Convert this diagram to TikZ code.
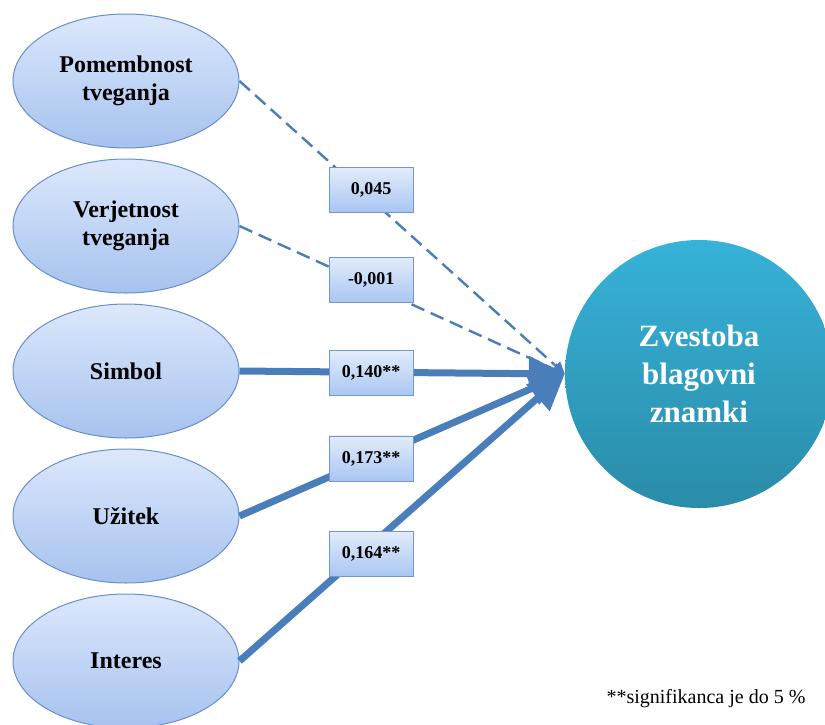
\documentclass[tikz,border=0pt]{standalone}
\usepackage{fontspec}
\setmainfont{Liberation Serif}
\usetikzlibrary{arrows.meta,shapes.geometric}
\definecolor{linija}{HTML}{4A7EBB}
\definecolor{elrob}{HTML}{6A8FC8}
\definecolor{elzg}{HTML}{DCE8FC}
\definecolor{elsp}{HTML}{A6C2EE}
\definecolor{krzg}{HTML}{37B2D9}
\definecolor{krsp}{HTML}{2A8CA8}
\definecolor{okrob}{HTML}{7396CC}
\definecolor{okzg}{HTML}{E2ECFB}
\definecolor{oksp}{HTML}{A9C6F2}
\tikzstyle{factor} = [ellipse, draw=elrob, line width=1pt, top color=elzg, bottom color=elsp, minimum width=226pt, minimum height=134pt, inner sep=0pt, align=center, font=\bfseries\fontsize{24}{28}\selectfont]
\tikzstyle{target} = [circle, top color=krzg, bottom color=krsp, minimum size=268pt, inner sep=0pt, align=center, text=white, font=\bfseries\fontsize{31}{38}\selectfont]
\tikzstyle{coef} = [rectangle, solid, draw=okrob, line width=0.8pt, top color=okzg, bottom color=oksp, minimum width=84pt, minimum height=45pt, inner sep=0pt, text=black, font=\bfseries\fontsize{18}{20}\selectfont]
\tikzstyle{strong} = [line width=7pt, draw=linija, -{Triangle[length=36pt,width=34pt]}]
\tikzstyle{weak} = [line width=2.4pt, draw=linija, dash pattern=on 14pt off 7pt, -{Triangle[length=12pt,width=12pt]}]
\begin{document}
\begin{tikzpicture}[x=1pt, y=-1pt, node distance=145pt]
  \useasboundingbox (0,0) rectangle (825,724);
  \node (pomembnost) [factor] at (126,81) {Pomembnost\\tveganja};
  \node (verjetnost) [factor, below of=pomembnost] {Verjetnost\\tveganja};
  \node (simbol) [factor, below of=verjetnost] {Simbol};
  \node (uzitek) [factor, below of=simbol] {Užitek};
  \node (interes) [factor, below of=uzitek] {Interes};
  \node (zvestoba) [target] at (699,374) {Zvestoba\\blagovni\\znamki};

  \draw [weak] (pomembnost.east) -- node[coef, pos=0.405, yshift=10pt] {0,045} (zvestoba.west);
  \draw [weak] (verjetnost.east) -- node[coef, pos=0.405, yshift=6pt] {-0,001} (zvestoba.west);
  \draw [strong] (simbol.east) -- node[coef, pos=0.405, yshift=-1pt] {0,140**} (zvestoba.west);
  \draw [strong] (uzitek.east) -- node[coef, pos=0.405] {0,173**} (zvestoba.west);
  \draw [strong] (interes.east) -- node[coef, pos=0.405, yshift=-9pt] {0,164**} (zvestoba.west);

  \node (opomba) [anchor=base, font=\fontsize{20}{24}\selectfont] at (706,703) {**signifikanca je do 5 \%};
\end{tikzpicture}
\end{document}
